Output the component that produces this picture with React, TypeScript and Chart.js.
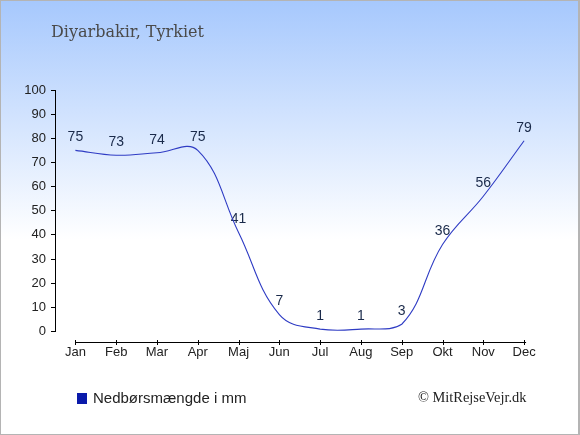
import React, { useEffect, useRef } from "react";
import { Chart, registerables } from "chart.js";

Chart.register(...registerables);

const months = ["Jan", "Feb", "Mar", "Apr", "Maj", "Jun", "Jul", "Aug", "Sep", "Okt", "Nov", "Dec"];
const precipitation = [75, 73, 74, 75, 41, 7, 1, 1, 3, 36, 56, 79];
const yTicks = [0, 10, 20, 30, 40, 50, 60, 70, 80, 90, 100];
const titleText = "Diyarbakir, Tyrkiet";
const legendText = "Nedbørsmængde i mm";
const creditText = "© MitRejseVejr.dk";

const SANS = "'Liberation Sans', Arial, sans-serif";

const customAxes = {
  id: "customAxes",
  afterDraw(chart: any) {
    const ctx = chart.ctx;
    const xs = chart.scales.x;
    const area = chart.chartArea;
    const y = Math.round(area.bottom + 10) + 0.5;
    const x0 = xs.getPixelForValue(0);
    const x1 = xs.getPixelForValue(months.length - 1);
    ctx.save();
    ctx.strokeStyle = "#000";
    ctx.lineWidth = 1;
    ctx.beginPath();
    ctx.moveTo(x0, y);
    ctx.lineTo(x1 + 2, y);
    for (let i = 0; i < months.length; i++) {
      const px = Math.round(xs.getPixelForValue(i)) + 0.5;
      ctx.moveTo(px, y - 2.5);
      ctx.lineTo(px, y + 2.5);
    }
    ctx.stroke();
    ctx.restore();
  },
};

const valueLabels = {
  id: "valueLabels",
  beforeDatasetsDraw(chart: any) {
    const ctx = chart.ctx;
    const meta = chart.getDatasetMeta(0);
    ctx.save();
    ctx.font = `14px ${SANS}`;
    ctx.fillStyle = "#1a2a4a";
    ctx.textAlign = "center";
    ctx.textBaseline = "middle";
    meta.data.forEach((pt: any, i: number) => {
      ctx.fillText(String(precipitation[i]), pt.x, pt.y - 13);
    });
    ctx.restore();
  },
};

export default function App() {
  const ref = useRef<HTMLCanvasElement | null>(null);

  useEffect(() => {
    document.body.style.margin = "0";
    if (!ref.current) return;
    const chart = new Chart(ref.current, {
      type: "line",
      data: {
        labels: months,
        datasets: [
          {
            label: legendText,
            data: precipitation,
            borderColor: "#2f3cc4",
            borderWidth: 1.1,
            pointRadius: 0,
            pointHoverRadius: 0,
            tension: 0.4,
            fill: false,
          },
        ],
      },
      options: {
        animation: false,
        responsive: false,
        devicePixelRatio: 1,
        events: [],
        layout: { padding: { top: 90, right: 35.5, left: 0, bottom: 0 } },
        plugins: {
          legend: { display: false },
          title: { display: false },
          tooltip: { enabled: false },
        },
        scales: {
          x: {
            type: "category",
            offset: true,
            grid: { display: false, drawTicks: false },
            border: { display: false },
            ticks: {
              padding: 13,
              color: "#222",
              font: { size: 13, family: SANS },
              maxRotation: 0,
              autoSkip: false,
            },
            afterFit(scale: any) {
              scale.height = 103.5;
            },
          },
          y: {
            min: 0,
            max: 100,
            afterBuildTicks(scale: any) {
              scale.ticks = yTicks.map((v) => ({ value: v }));
            },
            grid: {
              display: true,
              drawOnChartArea: false,
              drawTicks: true,
              tickLength: 4,
              color: "#000",
            },
            border: { display: true, color: "#000", width: 1 },
            ticks: {
              padding: 5,
              color: "#222",
              font: { size: 13, family: SANS },
            },
            afterFit(scale: any) {
              scale.width = 55;
            },
          },
        },
      },
      plugins: [customAxes, valueLabels],
    });
    return () => chart.destroy();
  }, []);

  return (
    <div
      style={{
        position: "relative",
        width: 580,
        height: 435,
        background: "linear-gradient(to bottom, #a6c8fd 0%, #ffffff 55%, #ffffff 100%)",
        overflow: "hidden",
      }}
    >
      <canvas ref={ref} width={580} height={435} style={{ position: "absolute", left: 0, top: 0, width: 580, height: 435 }} />
      <div
        style={{
          position: "absolute",
          left: 51,
          top: 22,
          fontFamily: "'DejaVu Serif', serif",
          fontSize: 16,
          lineHeight: "20px",
          color: "#4a4a4a",
          whiteSpace: "nowrap",
        }}
      >
        {titleText}
      </div>
      <div
        style={{
          position: "absolute",
          left: 77,
          top: 389,
          display: "flex",
          alignItems: "center",
          fontFamily: SANS,
          fontSize: 15,
          lineHeight: "18px",
          color: "#222",
          whiteSpace: "nowrap",
        }}
      >
        <span style={{ display: "inline-block", width: 10, height: 11, background: "#0a1aaa", marginRight: 6 }} />
        <span>{legendText}</span>
      </div>
      <div
        style={{
          position: "absolute",
          left: 418,
          top: 389,
          fontFamily: "'Liberation Serif', serif",
          fontSize: 14.4,
          lineHeight: "17px",
          color: "#222",
          whiteSpace: "nowrap",
        }}
      >
        {creditText}
      </div>
      <div
        style={{
          position: "absolute",
          left: 0,
          top: 0,
          width: 580,
          height: 435,
          boxSizing: "border-box",
          borderTop: "1px solid #b4b4b4",
          borderLeft: "1px solid #b4b4b4",
          borderRight: "2px solid #b4b4b4",
          borderBottom: "1px solid #b4b4b4",
          pointerEvents: "none",
        }}
      />
    </div>
  );
}
